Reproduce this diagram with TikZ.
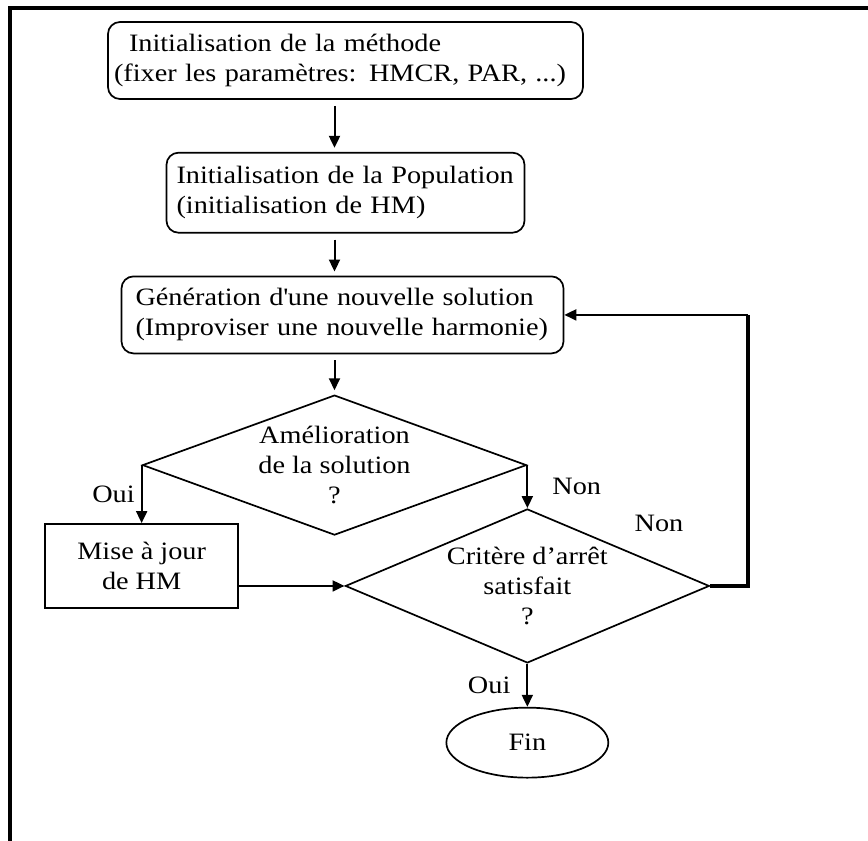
\documentclass[tikz,border=0pt]{standalone}
\usepackage{fontspec}
\setmainfont[FakeStretch=1.13]{Liberation Serif}
\usepackage{tikz}
\usetikzlibrary{arrows.meta,positioning,shapes.geometric}
\newcommand{\flowfont}{\fontsize{25pt}{30pt}\selectfont}

\begin{document}
\begin{tikzpicture}[x=1pt,y=-1pt,
    rbox/.style={draw,line width=1.7pt,rounded corners=12pt,align=left,minimum height=77pt,font=\flowfont},
    sbox/.style={draw,line width=1.7pt,align=center,minimum width=193pt,minimum height=84pt,font=\flowfont},
    test/.style={draw,line width=1.7pt,diamond,inner sep=0pt,align=center,font=\flowfont},
    term/.style={draw,line width=1.7pt,ellipse,minimum width=162pt,minimum height=70pt,font=\flowfont},
    lbl/.style={font=\flowfont,inner sep=2pt},
    arr/.style={-{Triangle[length=12pt,width=11pt]},line width=2pt},
    gap/.style={shorten <=6pt,shorten >=4pt}]
  \useasboundingbox (0,0) rectangle (868,841);
  \draw[line width=3.5pt] (10,841) -- (10,8) -- (868,8);
  \node[rbox,text width=463pt,inner xsep=6pt] (init) at (345.5,60.5) {\hspace*{15pt}Initialisation de la méthode\\(fixer les paramètres: HMCR, PAR, ...)};
  \node[rbox,text width=338pt,inner xsep=10pt,minimum height=80pt,below=52pt of init] (pop) {Initialisation de la Population\\(initialisation de HM)};
  \node[rbox,text width=414pt,inner xsep=14pt,below=42pt of pop,xshift=-3pt] (gen) {Génération d\textquotesingle une nouvelle solution\\(Improviser une nouvelle harmonie)};
  \node[test,aspect=2.74,minimum width=384pt,minimum height=140pt,below=40pt of gen,xshift=-8pt] (amel) {Amélioration\\de la solution\\?};
  \node[sbox,below=58pt of amel.west] (maj) {Mise à jour\\de HM};
  \node[test,aspect=2.37,minimum width=364pt,minimum height=154pt,below=43pt of amel.east] (crit) {Critère d’arrêt\\satisfait\\?};
  \node[term,below=43pt of crit] (fin) {Fin};
  \coordinate[right=38pt of crit.east] (retour);
  \node[lbl] (non2) at (659,523) {Non};
  \draw[arr,gap] (init.south -| amel.north) -- (pop.north -| amel.north);
  \draw[arr,gap] (pop.south -| amel.north) -- (gen.north -| amel.north);
  \draw[arr,gap] (gen.south -| amel.north) -- (amel.north);
  \draw[arr] (amel.west) -- (maj.north) node[lbl,midway,left,xshift=-4pt] (oui1) {Oui};
  \draw[arr] (amel.east) -- (crit.north) node[lbl,midway,right,xshift=22pt] (non1) {Non};
  \draw[arr] (maj.east |- crit.west) -- (crit.west);
  \draw[arr] (crit.south) -- (fin.north) node[lbl,midway,left,xshift=-14pt] (oui2) {Oui};
  \draw[line width=4pt] (crit.east) -- (retour) -- (retour |- gen.east);
  \draw[arr] (retour |- gen.east) -- (gen.east);
\end{tikzpicture}
\end{document}
